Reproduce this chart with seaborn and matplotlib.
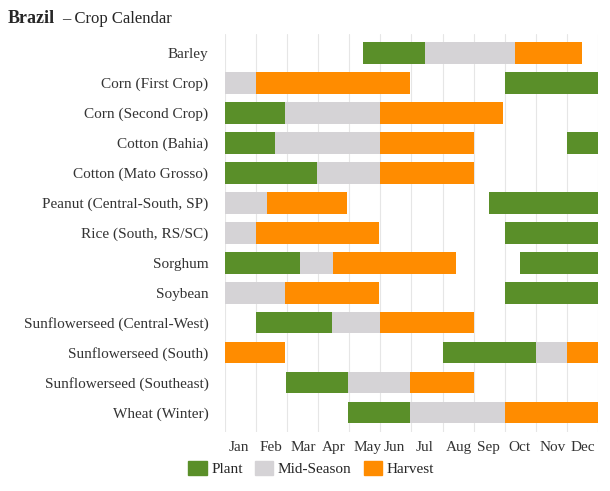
import matplotlib
matplotlib.use("Agg")
import matplotlib.pyplot as plt
import seaborn as sns
import pandas as pd
from matplotlib.patches import Patch

crops = ["Barley", "Corn (First Crop)", "Corn (Second Crop)", "Cotton (Bahia)",
         "Cotton (Mato Grosso)", "Peanut (Central-South, SP)", "Rice (South, RS/SC)",
         "Sorghum", "Soybean", "Sunflowerseed (Central-West)", "Sunflowerseed (South)",
         "Sunflowerseed (Southeast)", "Wheat (Winter)"]
months = ["Jan", "Feb", "Mar", "Apr", "May", "Jun", "Jul", "Aug", "Sep", "Oct", "Nov", "Dec"]

# segments: crop index, phase, start month, end month (0 = Jan 1, 12 = Dec 31)
seg_crop = [0, 0, 0,
            1, 1, 1,
            2, 2, 2,
            3, 3, 3, 3,
            4, 4, 4,
            5, 5, 5,
            6, 6, 6,
            7, 7, 7, 7,
            8, 8, 8,
            9, 9, 9,
            10, 10, 10, 10,
            11, 11, 11,
            12, 12, 12]
seg_phase = ["Plant", "Mid-Season", "Harvest",
             "Mid-Season", "Harvest", "Plant",
             "Plant", "Mid-Season", "Harvest",
             "Plant", "Mid-Season", "Harvest", "Plant",
             "Plant", "Mid-Season", "Harvest",
             "Mid-Season", "Harvest", "Plant",
             "Mid-Season", "Harvest", "Plant",
             "Plant", "Mid-Season", "Harvest", "Plant",
             "Mid-Season", "Harvest", "Plant",
             "Plant", "Mid-Season", "Harvest",
             "Harvest", "Plant", "Mid-Season", "Harvest",
             "Plant", "Mid-Season", "Harvest",
             "Plant", "Mid-Season", "Harvest"]
seg_start = [4.45, 6.45, 9.33,
             0.0, 1.0, 9.0,
             0.0, 1.93, 5.0,
             0.0, 1.6, 5.0, 11.0,
             0.0, 2.95, 5.0,
             0.0, 1.35, 8.5,
             0.0, 1.0, 9.0,
             0.0, 2.42, 3.47, 9.5,
             0.0, 1.93, 9.0,
             1.0, 3.45, 5.0,
             0.0, 7.0, 10.0, 11.0,
             1.95, 3.95, 5.95,
             3.95, 5.95, 9.0]
seg_end = [6.45, 9.33, 11.5,
           1.0, 5.95, 12.0,
           1.93, 5.0, 8.95,
           1.6, 5.0, 8.0, 12.0,
           2.95, 5.0, 8.0,
           1.35, 3.93, 12.0,
           1.0, 4.95, 12.0,
           2.42, 3.47, 7.45, 12.0,
           1.93, 4.95, 12.0,
           3.45, 5.0, 8.0,
           1.93, 10.0, 11.0, 12.0,
           3.95, 5.95, 8.0,
           5.95, 9.0, 12.0]

colors = {"Plant": "#5a8f29", "Mid-Season": "#d5d3d6", "Harvest": "#ff8c00"}

df = pd.DataFrame({"crop": seg_crop, "phase": seg_phase, "start": seg_start, "end": seg_end})

sns.set_theme(style="white")
plt.rcParams["font.family"] = ["Liberation Serif", "DejaVu Serif"]

fig = plt.figure(figsize=(6.10, 4.91), dpi=100)
ax = fig.add_axes([0.369, 0.12, 0.611, 0.81])

for _, r in df.iterrows():
    ax.barh(r["crop"], r["end"] - r["start"], left=r["start"], height=0.72,
            color=colors[r["phase"]], edgecolor="none", zorder=2)

ax.set_xlim(0, 12)
ax.set_ylim(len(crops) - 0.35, -0.62)
ax.set_yticks(range(len(crops)))
ax.set_yticklabels(crops, fontsize=11, color="#333333")
ax.tick_params(axis="y", length=0, pad=12)
ax.set_xticks([])
for m in range(13):
    ax.axvline(m, color="#e6e6e6", lw=0.8, zorder=1)
for i, m in enumerate(months):
    ax.text(i + 0.12, len(crops) - 0.05, m, ha="left", va="top", fontsize=11, color="#333333")
for s in ax.spines.values():
    s.set_visible(False)

fig.text(0.013, 0.962, "Brazil", fontsize=13, fontweight="bold", va="center")
fig.text(0.102, 0.962, "\u2013 Crop Calendar", fontsize=12, va="center")

handles = [Patch(color=colors[k]) for k in ["Plant", "Mid-Season", "Harvest"]]
fig.legend(handles, ["Plant", "Mid-Season", "Harvest"], loc="center", bbox_to_anchor=(0.51, 0.045),
           ncol=3, frameon=False, fontsize=11, handlelength=1.2, handleheight=1.0,
           handletextpad=0.3, columnspacing=0.8)

fig.savefig("out.png", dpi=100)
